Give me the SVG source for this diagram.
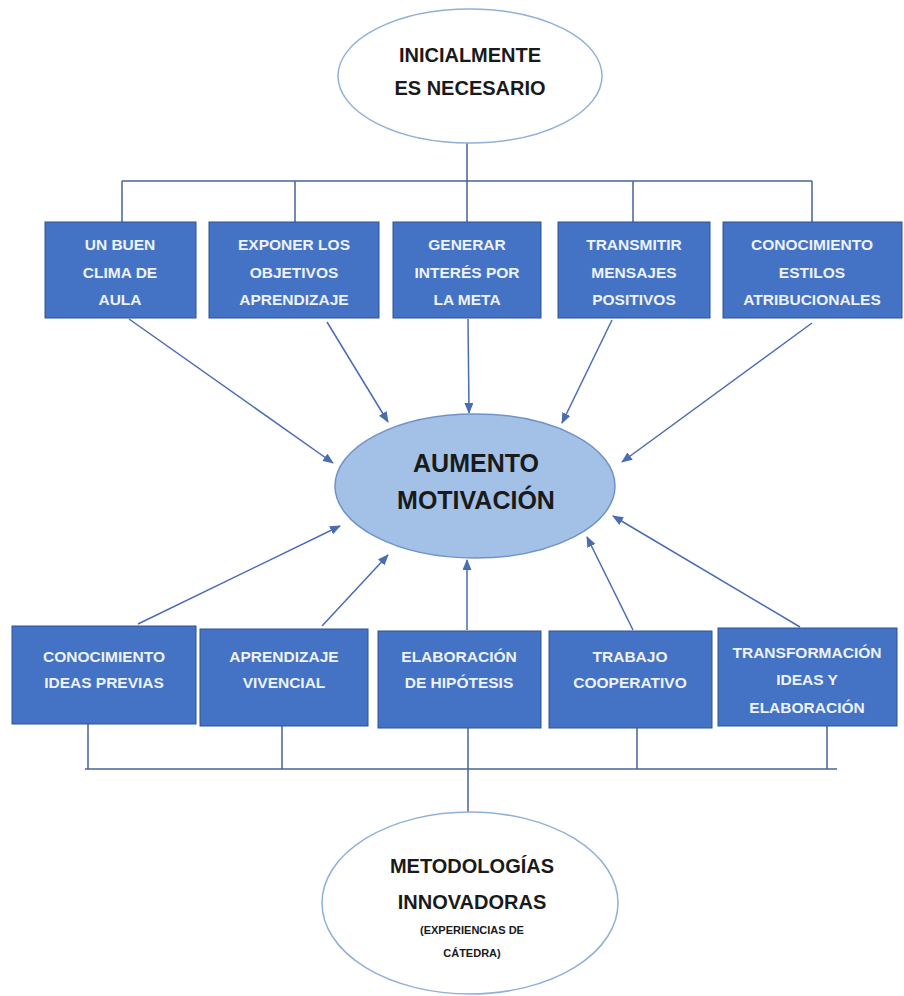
<svg xmlns="http://www.w3.org/2000/svg" width="904" height="996" viewBox="0 0 904 996">
<defs>
<marker id="ah" markerWidth="11" markerHeight="9" refX="10" refY="4.5" orient="auto" markerUnits="userSpaceOnUse">
<path d="M0,0 L11,4.5 L0,9 Z" fill="#4a6cb3"/>
</marker>
</defs>
<style>
.box{fill:#4472c4;stroke:#2f528f;stroke-width:1}
.bt{font-family:"Liberation Sans",Arial,sans-serif;font-weight:bold;font-size:15.5px;fill:#eef2fa;text-anchor:middle}
.et{font-family:"Liberation Sans",Arial,sans-serif;font-weight:bold;fill:#1a1a1a;text-anchor:middle}
.ell{fill:#ffffff;stroke:#8fb0d8;stroke-width:1.5}
.line{stroke:#4a6396;stroke-width:1.5;fill:none}
.arr{stroke:#4a6cb3;stroke-width:1.5;fill:none;marker-end:url(#ah)}
</style>
<rect width="904" height="996" fill="#ffffff"/>

<g id="connectors">
<path class="line" d="M467,143 V181 M122,181 H812 M122,181 V222 M295,181 V222 M467,181 V222 M633,181 V222 M812,181 V222"/>
<path class="line" d="M85,769 H837 M88,724 V769 M282,726 V769 M468,728 V812 M637,728 V769 M827,726 V769"/>
<line class="arr" x1="129" y1="319" x2="333" y2="463"/>
<line class="arr" x1="327" y1="322" x2="388" y2="422"/>
<line class="arr" x1="468" y1="319" x2="469" y2="413"/>
<line class="arr" x1="612" y1="320" x2="562" y2="423"/>
<line class="arr" x1="812" y1="323" x2="622" y2="462"/>
<line class="arr" x1="138" y1="624" x2="340" y2="526"/>
<line class="arr" x1="322" y1="626" x2="388" y2="555"/>
<line class="arr" x1="467" y1="630" x2="467" y2="560"/>
<line class="arr" x1="633" y1="630" x2="587" y2="537"/>
<line class="arr" x1="800" y1="627" x2="613" y2="516"/>
</g>

<g id="inicial">
<ellipse class="ell" cx="470" cy="76" rx="132" ry="67"/>
<text class="et" font-size="20" x="470" y="62">INICIALMENTE</text>
<text class="et" font-size="20" x="470" y="95">ES NECESARIO</text>
</g>

<g id="t1"><rect class="box" x="45" y="222" width="151" height="96"/>
<text class="bt" x="120" y="250">UN BUEN</text><text class="bt" x="120" y="278">CLIMA DE</text><text class="bt" x="120" y="305">AULA</text></g>
<g id="t2"><rect class="box" x="209" y="222" width="170" height="96"/>
<text class="bt" x="294" y="250">EXPONER LOS</text><text class="bt" x="294" y="278">OBJETIVOS</text><text class="bt" x="294" y="305">APRENDIZAJE</text></g>
<g id="t3"><rect class="box" x="393" y="222" width="148" height="96"/>
<text class="bt" x="467" y="250">GENERAR</text><text class="bt" x="467" y="278">INTERÉS POR</text><text class="bt" x="467" y="305">LA META</text></g>
<g id="t4"><rect class="box" x="558" y="222" width="152" height="96"/>
<text class="bt" x="634" y="250">TRANSMITIR</text><text class="bt" x="634" y="278">MENSAJES</text><text class="bt" x="634" y="305">POSITIVOS</text></g>
<g id="t5"><rect class="box" x="723" y="222" width="179" height="96"/>
<text class="bt" x="812" y="250">CONOCIMIENTO</text><text class="bt" x="812" y="278">ESTILOS</text><text class="bt" x="812" y="305">ATRIBUCIONALES</text></g>

<g id="aumento">
<ellipse cx="475" cy="486" rx="140" ry="72" fill="#a3c1e6" stroke="#6f93c8" stroke-width="1.5"/>
<text class="et" font-size="25" x="476" y="472">AUMENTO</text>
<text class="et" font-size="25" x="476" y="509">MOTIVACIÓN</text>
</g>

<g id="b1"><rect class="box" x="12" y="626" width="184" height="98"/>
<text class="bt" x="104" y="662">CONOCIMIENTO</text><text class="bt" x="104" y="688">IDEAS PREVIAS</text></g>
<g id="b2"><rect class="box" x="200" y="629" width="168" height="97"/>
<text class="bt" x="284" y="662">APRENDIZAJE</text><text class="bt" x="284" y="688">VIVENCIAL</text></g>
<g id="b3"><rect class="box" x="378" y="631" width="163" height="97"/>
<text class="bt" x="459" y="662">ELABORACIÓN</text><text class="bt" x="459" y="688">DE HIPÓTESIS</text></g>
<g id="b4"><rect class="box" x="549" y="631" width="163" height="97"/>
<text class="bt" x="630" y="662">TRABAJO</text><text class="bt" x="630" y="688">COOPERATIVO</text></g>
<g id="b5"><rect class="box" x="718" y="628" width="179" height="98"/>
<text class="bt" x="807" y="658">TRANSFORMACIÓN</text><text class="bt" x="807" y="685">IDEAS Y</text><text class="bt" x="807" y="713">ELABORACIÓN</text></g>

<g id="metodologias">
<ellipse class="ell" cx="470" cy="903" rx="148" ry="91"/>
<text class="et" font-size="20" x="472" y="873">METODOLOGÍAS</text>
<text class="et" font-size="20" x="472" y="909">INNOVADORAS</text>
<text class="et" font-size="11" x="472" y="934">(EXPERIENCIAS DE</text>
<text class="et" font-size="11" x="472" y="957">CÁTEDRA)</text>
</g>
</svg>
